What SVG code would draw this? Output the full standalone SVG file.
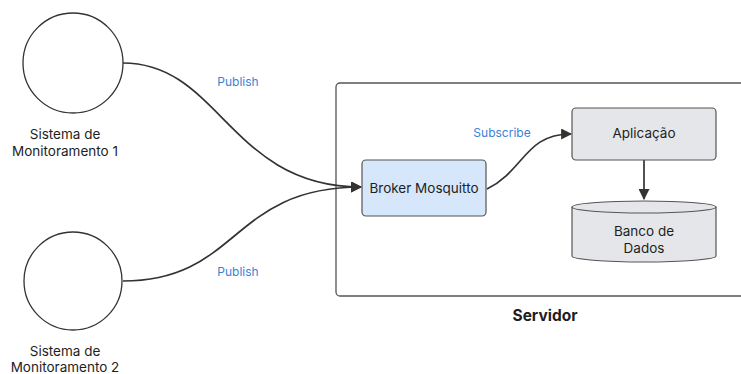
<svg xmlns="http://www.w3.org/2000/svg" width="741" height="374" viewBox="0 0 741 374">
<defs>
<style>
text{font-family:Inter,"Noto Sans","Liberation Sans",sans-serif;font-size:13.5px;fill:#1e1e1e;text-anchor:middle}
.lbl{fill:#3b82d6;font-size:12px}
.edge{fill:none;stroke:#333;stroke-width:1.7}
.box{stroke:#555;stroke-width:1.2}
</style>
<marker id="ah" viewBox="0 0 10 10" refX="9" refY="5" markerWidth="11" markerHeight="11" markerUnits="userSpaceOnUse" orient="auto">
<path d="M0,0 L10,5 L0,10 z" fill="#333"/>
</marker>
</defs>
<rect width="741" height="374" fill="#fff"/>
<g id="servidor">
<rect x="336" y="83" width="420" height="213" rx="4" fill="none" stroke="#555" stroke-width="1.3"/>
<text x="545" y="321" style="font-weight:bold;font-size:15.5px">Servidor</text>
</g>
<g id="connectors">
<path class="edge" d="M123,63 C220,63 230,187 361,187" marker-end="url(#ah)"/>
<path class="edge" d="M123,281 C240,281 230,187 361,187" marker-end="url(#ah)"/>
<path class="edge" d="M487,189 C525,170 525,134 571,134" marker-end="url(#ah)"/>
<path class="edge" d="M644,160 L644,199" marker-end="url(#ah)"/>
<text class="lbl" x="238" y="86">Publish</text>
<text class="lbl" x="238" y="276">Publish</text>
<text class="lbl" x="502" y="137">Subscribe</text>
</g>
<g id="sistema1">
<circle cx="73" cy="63" r="50" fill="#fff" stroke="#333" stroke-width="1.3"/>
<text x="65" y="139">Sistema de</text>
<text x="65" y="156">Monitoramento 1</text>
</g>
<g id="sistema2">
<circle cx="73" cy="281" r="49" fill="#fff" stroke="#333" stroke-width="1.3"/>
<text x="65" y="356">Sistema de</text>
<text x="65" y="372">Monitoramento 2</text>
</g>
<g id="broker">
<rect class="box" x="362" y="160" width="124" height="56" rx="4" fill="#d7e7fb"/>
<text x="424" y="193">Broker Mosquitto</text>
</g>
<g id="aplicacao">
<rect class="box" x="572" y="108" width="144" height="52" rx="4" fill="#e4e6ea"/>
<text x="644" y="138">Aplicação</text>
</g>
<g id="banco">
<path class="box" d="M572,207 L572,256 A72,6 0 0 0 716,256 L716,207" fill="#e4e6ea"/>
<ellipse class="box" cx="644" cy="207" rx="72" ry="6" fill="#e4e6ea"/>
<text x="644" y="236">Banco de</text>
<text x="644" y="253">Dados</text>
</g>
</svg>
